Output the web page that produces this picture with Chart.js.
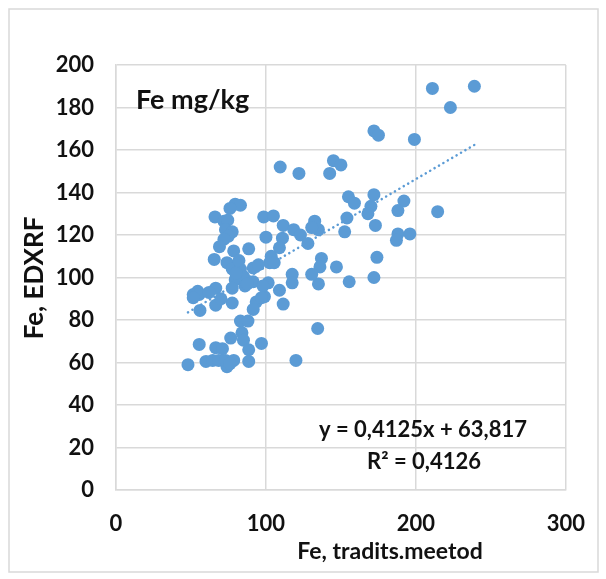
<!DOCTYPE html>
<html>
<head>
<meta charset="utf-8">
<script src="https://cdn.jsdelivr.net/npm/chart.js@4"></script>
<style>
  html, body { margin: 0; padding: 0; background: #fff; overflow: hidden; }
  #wrap { width: 606px; height: 579px; position: relative; }
</style>
</head>
<body>
<div id="wrap"><canvas id="feChart"></canvas></div>
<script>
// Fe, tradits.meetod (x) vs Fe, EDXRF (y)
const feTrad = [
  211, 239, 223, 199, 172, 175, 109.5, 122, 145, 150, 142.5, 155, 159, 172, 192,
  154, 170, 168, 188, 214.5, 173, 152.5, 188, 187, 196, 174, 172, 155.5, 135, 134.5, 120,
  98.5, 105, 111.5, 118.5, 123, 128, 132.5, 135, 130.5, 100, 111, 109, 103.5, 102.5, 105.5,
  137, 136, 147, 130.5, 117.5, 117.5, 101.5, 109, 99, 111.5, 97,
  79.5, 83, 76, 66, 72, 74.5, 73, 77.5, 75, 72, 69, 78.5, 88.5, 65.5,
  74, 77.5, 83, 85, 91.5, 95, 79.5, 91.5, 86, 77.5, 66.5, 54.5, 51.5, 98, 55.5, 51.5,
  56, 66.5, 77.5, 93.5, 97, 91.5, 83, 88, 84, 85, 76.5, 55.5, 66.5, 71, 88.5,
  48, 60, 64.5, 68.5, 74, 73, 78.5, 88.5, 76, 80, 62, 70, 82, 87.5
];
const feEdxrf = [
  189, 190, 180, 165, 169, 167, 152, 149, 155, 153, 149, 138, 135, 139, 136,
  128, 133.5, 130, 131.5, 131, 124.5, 121.5, 120.5, 117.5, 120.5, 109.5, 100, 98, 97, 76, 61,
  128.5, 129, 124.5, 122.5, 120, 116, 126.5, 122.5, 123.5, 119, 118.5, 114, 110, 107, 107,
  109, 105, 105, 101.5, 101.5, 97.5, 97.5, 94, 91, 87.5, 69,
  134.5, 134, 132.5, 128.5, 126.5, 127, 122.5, 121.5, 119.5, 118, 114.5, 112.5, 113.5, 108.5,
  107, 104, 104, 100.5, 104.5, 106, 99, 98, 96, 95, 95, 93.5, 92, 96, 92, 90.5,
  84.5, 87, 88, 88.5, 90.5, 85, 79.5, 79.5, 74, 70.5, 71.5, 68.5, 67, 66.5, 66,
  59, 60.5, 61, 61, 58, 61, 61, 60.5, 59.5, 102, 93, 90, 108, 97
];
// linear trend as printed on the chart
const trendSlope = 0.4125;
const trendIntercept = 63.817;
const trendText = ['y = 0,4125x + 63,817', 'R² = 0,4126'];

const xTicks = [0, 100, 200, 300];
const yTicks = [0, 20, 40, 60, 80, 100, 120, 140, 160, 180, 200];

const points = feTrad.map((x, i) => ({ x: x, y: feEdxrf[i] }));
const xMin = Math.min(...feTrad), xMax = Math.max(...feTrad);
const trend = [xMin, xMax].map(x => ({ x: x, y: trendSlope * x + trendIntercept }));

const BLUE = '#5b9bd5';
const GRID = '#d9d9d9';
const FONT = 'Lato, "Open Sans", sans-serif';

const decor = {
  id: 'decor',
  beforeDraw(chart) {
    const c = chart.ctx;
    c.save();
    c.fillStyle = '#fff';
    c.fillRect(0, 0, chart.width, chart.height);
    c.strokeStyle = GRID;
    c.lineWidth = 1.5;
    c.strokeRect(9, 9, 589, 563);
    c.restore();
  },
  afterDraw(chart) {
    const c = chart.ctx;
    c.save();
    c.fillStyle = '#111';
    c.textBaseline = 'middle';
    // chart title
    c.font = 'bold 27px ' + FONT;
    c.textAlign = 'left';
    c.fillText('Fe mg/kg', 136, 100);
    // trend equation
    c.font = 'bold 22px ' + FONT;
    c.textAlign = 'center';
    c.fillText(trendText[0], 423, 430);
    c.fillText(trendText[1], 424, 462);
    // axis titles
    c.font = 'bold 23px ' + FONT;
    c.fillText('Fe, tradits.meetod', 390, 552);
    c.font = 'bold 26px ' + FONT;
    c.translate(35, 278);
    c.rotate(-Math.PI / 2);
    c.fillText('Fe, EDXRF', 0, 0);
    c.restore();
  }
};

new Chart(document.getElementById('feChart'), {
  type: 'scatter',
  data: {
    datasets: [{
      label: 'Fe',
      data: points,
      backgroundColor: BLUE,
      borderColor: BLUE,
      pointRadius: 6.5,
      pointHoverRadius: 6.5,
      borderWidth: 0
    }, {
      type: 'line',
      label: 'Trend',
      data: trend,
      borderColor: BLUE,
      borderWidth: 2.5,
      borderDash: [0.1, 5],
      borderCapStyle: 'round',
      pointRadius: 0,
      fill: false
    }]
  },
  options: {
    responsive: true,
    maintainAspectRatio: false,
    animation: false,
    layout: { padding: { top: 65, right: 29, left: 0, bottom: 0 } },
    plugins: {
      legend: { display: false },
      tooltip: { enabled: false }
    },
    scales: {
      x: {
        type: 'linear',
        min: 0,
        max: 300,
        afterBuildTicks: s => { s.ticks = xTicks.map(v => ({ value: v })); },
        afterFit: s => { s.height = 89; },
        grid: { color: GRID, lineWidth: 1.5, drawTicks: false },
        border: { display: true, color: GRID, width: 1.5 },
        ticks: { color: '#111', padding: 21, font: { family: FONT, size: 22, weight: 'bold' } }
      },
      y: {
        type: 'linear',
        min: 0,
        max: 200,
        afterBuildTicks: s => { s.ticks = yTicks.map(v => ({ value: v })); },
        afterFit: s => { s.width = 116; },
        grid: { color: GRID, lineWidth: 1.5, drawTicks: false },
        border: { display: true, color: GRID, width: 1.5 },
        ticks: { color: '#111', padding: 22, font: { family: FONT, size: 22, weight: 'bold' } }
      }
    }
  },
  plugins: [decor]
});
</script>
</body>
</html>
